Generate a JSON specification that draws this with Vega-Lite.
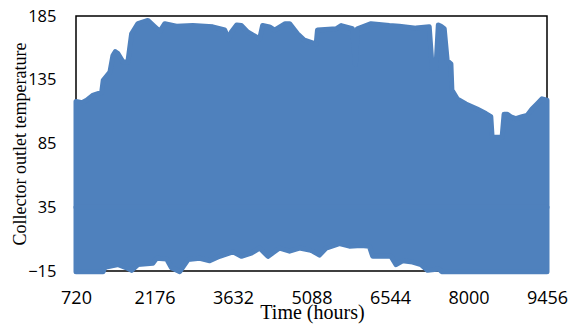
{
  "$schema": "https://vega.github.io/schema/vega-lite/v6.json",
  "width": 471,
  "height": 255,
  "autosize": "none",
  "padding": {"left": 76, "top": 16, "right": 24, "bottom": 53},
  "background": "white",
  "config": {
    "view": {"stroke": "black", "strokeWidth": 1.5},
    "axis": {"grid": false, "domain": false, "ticks": false, "tickSize": 0, "labelColor": "black", "titleColor": "black", "titleFontWeight": "normal", "titleFont": "Liberation Serif", "labelFont": "Open Sans"}
  },
  "datasets": {
    "upper": [
      {"hour": 720, "temp": 118}, {"hour": 831, "temp": 117}, {"hour": 918, "temp": 119}, {"hour": 1040, "temp": 123},
      {"hour": 1196, "temp": 125}, {"hour": 1225, "temp": 134.5}, {"hour": 1349, "temp": 141}, {"hour": 1405, "temp": 154},
      {"hour": 1450, "temp": 157}, {"hour": 1497, "temp": 155.5}, {"hour": 1590, "temp": 149}, {"hour": 1682, "temp": 149}, {"hour": 1751, "temp": 171},
      {"hour": 1868, "temp": 179}, {"hour": 2053, "temp": 181.5}, {"hour": 2182, "temp": 176.5}, {"hour": 2275, "temp": 173},
      {"hour": 2367, "temp": 179}, {"hour": 2584, "temp": 177}, {"hour": 2885, "temp": 177.5}, {"hour": 3256, "temp": 176.5},
      {"hour": 3478, "temp": 174}, {"hour": 3552, "temp": 167}, {"hour": 3602, "temp": 172.5}, {"hour": 3700, "temp": 178}, {"hour": 3787, "temp": 177.5},
      {"hour": 3903, "temp": 172.5}, {"hour": 4126, "temp": 167}, {"hour": 4181, "temp": 177.5}, {"hour": 4311, "temp": 176.5},
      {"hour": 4403, "temp": 174}, {"hour": 4600, "temp": 179}, {"hour": 4681, "temp": 179}, {"hour": 4829, "temp": 171}, {"hour": 4958, "temp": 166},
      {"hour": 5175, "temp": 163}, {"hour": 5199, "temp": 174}, {"hour": 5545, "temp": 175}, {"hour": 5638, "temp": 177.5},
      {"hour": 5847, "temp": 175}, {"hour": 5902, "temp": 147}, {"hour": 5939, "temp": 175}, {"hour": 6193, "temp": 179},
      {"hour": 6532, "temp": 177.5}, {"hour": 6717, "temp": 177}, {"hour": 7026, "temp": 175.5}, {"hour": 7272, "temp": 176.5},
      {"hour": 7327, "temp": 144}, {"hour": 7396, "temp": 144}, {"hour": 7440, "temp": 178}, {"hour": 7490, "temp": 177}, {"hour": 7550, "temp": 175},
      {"hour": 7605, "temp": 150}, {"hour": 7674, "temp": 147.5}, {"hour": 7692, "temp": 127}, {"hour": 7790, "temp": 120},
      {"hour": 7951, "temp": 116}, {"hour": 8160, "temp": 112}, {"hour": 8321, "temp": 108.5}, {"hour": 8414, "temp": 106},
      {"hour": 8438, "temp": 90}, {"hour": 8623, "temp": 90}, {"hour": 8660, "temp": 108}, {"hour": 8720, "temp": 108}, {"hour": 8784, "temp": 106},
      {"hour": 8876, "temp": 104.5}, {"hour": 8993, "temp": 106}, {"hour": 9086, "temp": 107}, {"hour": 9178, "temp": 112},
      {"hour": 9271, "temp": 116}, {"hour": 9364, "temp": 120}, {"hour": 9456, "temp": 119}
    ],
    "lower": [
      {"hour": 720, "temp": -15.5}, {"hour": 1225, "temp": -15.5}, {"hour": 1257, "temp": -12}, {"hour": 1503, "temp": -10},
      {"hour": 1658, "temp": -12.5}, {"hour": 1751, "temp": -14.5}, {"hour": 1868, "temp": -10}, {"hour": 2145, "temp": -9},
      {"hour": 2214, "temp": -5}, {"hour": 2399, "temp": -5.5}, {"hour": 2491, "temp": -12.5}, {"hour": 2645, "temp": -15.5},
      {"hour": 2798, "temp": -6}, {"hour": 3015, "temp": -5}, {"hour": 3200, "temp": -7}, {"hour": 3385, "temp": -3.5},
      {"hour": 3631, "temp": 0}, {"hour": 3787, "temp": -3.5}, {"hour": 3972, "temp": -1}, {"hour": 4126, "temp": 3},
      {"hour": 4279, "temp": -3.5}, {"hour": 4496, "temp": 3}, {"hour": 4681, "temp": 0.5}, {"hour": 4866, "temp": 3},
      {"hour": 5051, "temp": 1.5}, {"hour": 5113, "temp": 0.5}, {"hour": 5236, "temp": -2.5}, {"hour": 5360, "temp": 3},
      {"hour": 5606, "temp": 6.5}, {"hour": 5791, "temp": 4.5}, {"hour": 6008, "temp": 5}, {"hour": 6161, "temp": 4.5},
      {"hour": 6223, "temp": -3.5}, {"hour": 6563, "temp": -3.5}, {"hour": 6656, "temp": -10}, {"hour": 6778, "temp": -7},
      {"hour": 6963, "temp": -8}, {"hour": 7118, "temp": -10}, {"hour": 7240, "temp": -14.5}, {"hour": 7457, "temp": -13.5},
      {"hour": 7500, "temp": -15.5}, {"hour": 9456, "temp": -15.5}
    ]
  },
  "encoding": {
    "x": {
      "field": "hour", "type": "quantitative",
      "scale": {"domain": [720, 9456], "nice": false, "zero": false},
      "axis": {"values": [720, 2176, 3632, 5088, 6544, 8000, 9456], "format": "d", "title": "Time (hours)", "labelFontSize": 18, "labelPadding": 18, "titleFontSize": 20, "titleX": 236, "titleY": 47, "titleBaseline": "alphabetic", "titleAnchor": "middle", "labelFlush": false}
    },
    "y": {
      "field": "temp", "type": "quantitative",
      "scale": {"domain": [-15, 185], "nice": false, "zero": false},
      "axis": {"values": [-15, 35, 85, 135, 185], "format": "d", "title": "Collector outlet temperature", "labelFontSize": 16.5, "labelPadding": 20, "titleFontSize": 18, "titleX": -51, "titleY": 127.5, "titleAngle": -90, "titleBaseline": "alphabetic", "titleAnchor": "middle", "labelFlush": false}
    },
    "y2": {"datum": 35}
  },
  "layer": [
    {"data": {"name": "upper"}, "mark": {"type": "area", "color": "#4F81BD", "stroke": "#4F81BD", "strokeWidth": 5, "strokeJoin": "round", "clip": false}},
    {"data": {"name": "lower"}, "mark": {"type": "area", "color": "#4F81BD", "stroke": "#4F81BD", "strokeWidth": 5, "strokeJoin": "round", "clip": false}}
  ]
}
